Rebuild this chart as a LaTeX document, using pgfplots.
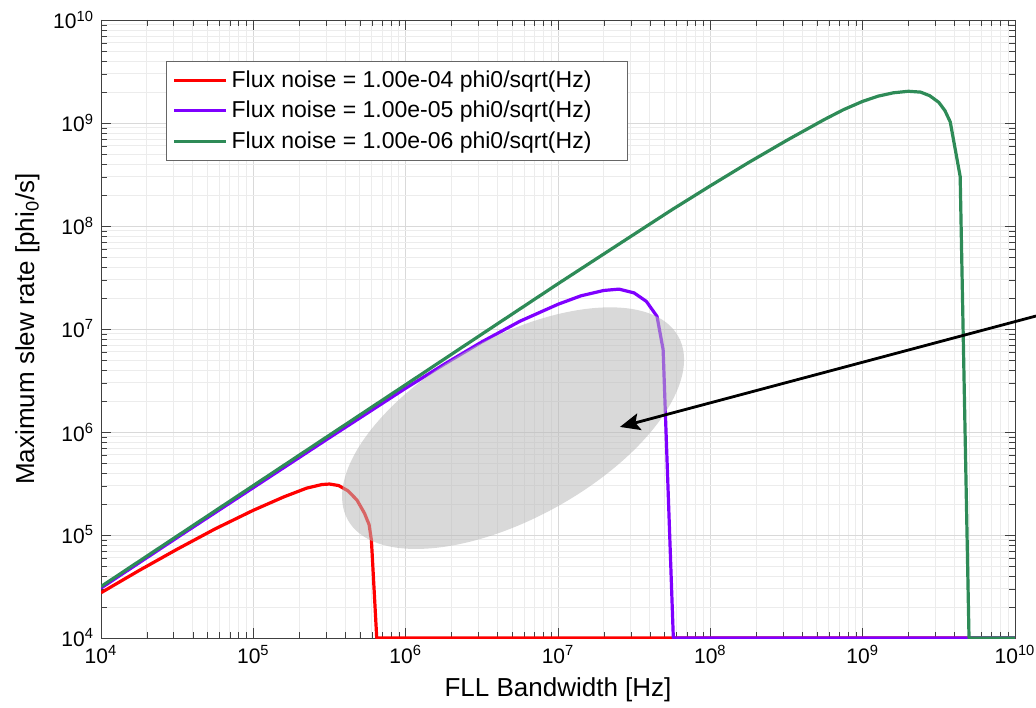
\documentclass[border=0pt]{standalone}
\usepackage{fontspec}
\setmainfont{Liberation Sans}
\usepackage{pgfplots}
\pgfplotsset{compat=1.18}
\usetikzlibrary{arrows.meta}
\definecolor{cred}{RGB}{255,0,0}
\definecolor{cviolet}{RGB}{127,0,255}
\definecolor{cgreen}{RGB}{46,139,87}
\definecolor{ellgray}{RGB}{185,185,185}

\begin{document}
\begin{tikzpicture}
\begin{axis}[
  xmode=log, ymode=log,
  scale only axis, width=457pt, height=309pt,
  xmin=1e4, xmax=1e10, ymin=1e4, ymax=1e10,
  xtick={1e4,1e5,1e6,1e7,1e8,1e9,1e10},
  ytick={1e4,1e5,1e6,1e7,1e8,1e9,1e10},
  xticklabels={10\textsuperscript{4},10\textsuperscript{5},10\textsuperscript{6},10\textsuperscript{7},10\textsuperscript{8},10\textsuperscript{9},10\textsuperscript{10}},
  yticklabels={10\textsuperscript{4},10\textsuperscript{5},10\textsuperscript{6},10\textsuperscript{7},10\textsuperscript{8},10\textsuperscript{9},10\textsuperscript{10}},
  grid=both,
  major grid style={gray!30, line width=0.4pt},
  minor grid style={gray!15, line width=0.4pt},
  axis line style={black!75}, tick style={black!75},
  major tick length=5pt, minor tick length=3pt,
  tick label style={font=\fontsize{10.5}{12}\selectfont},
  label style={font=\fontsize{13}{15}\selectfont},
  xlabel={FLL Bandwidth [Hz]},
  ylabel={Maximum slew rate [phi\textsubscript{0}/s]},
  legend style={at={(rel axis cs:0.0711,0.9337)}, anchor=north west,
    draw=black!60, fill=white, font=\fontsize{11.5}{14}\selectfont,
    inner xsep=3pt, inner ysep=2.5pt, row sep=1.5pt},
  legend cell align=left,
  legend image code/.code={\draw[#1] (0pt,0pt) -- (26pt,0pt);},
  every axis plot/.append style={line width=1.6pt, line join=round},
]
% red: 1e-4 phi0/sqrt(Hz)
\addplot[cred] coordinates {(1e4,2.75e4) (1.778e4,4.52e4) (3.162e4,7.28e4) (5.623e4,1.148e5) (1e5,1.738e5) (1.585e5,2.344e5) (2.239e5,2.851e5) (2.818e5,3.09e5) (3.162e5,3.126e5) (3.631e5,3.02e5) (4.169e5,2.692e5) (4.786e5,2.188e5) (5.37e5,1.622e5) (5.754e5,1.259e5) (5.957e5,8.91e4) (6.457e5,1e4) (1e10,1e4)};
\addlegendentry{\makebox[193pt][l]{Flux noise = 1.00e-04 phi0/sqrt(Hz)}}
% violet: 1e-5 phi0/sqrt(Hz)
\addplot[cviolet] coordinates {(1e4,3.055e4) (3.162e4,9.44e4) (1e5,2.884e5) (3.162e5,8.81e5) (5.623e5,1.531e6) (1e6,2.661e6) (1.778e6,4.519e6) (3.162e6,7.50e6) (5.623e6,1.189e7) (1e7,1.738e7) (1.413e7,2.099e7) (1.995e7,2.366e7) (2.512e7,2.438e7) (3.162e7,2.239e7) (3.802e7,1.854e7) (4.467e7,1.324e7) (4.898e7,6.31e6) (5.715e7,1e4) (1e10,1e4)};
\addlegendentry{Flux noise = 1.00e-05 phi0/sqrt(Hz)}
% green: 1e-6 phi0/sqrt(Hz)
\addplot[cgreen] coordinates {(1e4,3.16e4) (3.162e4,9.77e4) (1e5,3.02e5) (3.162e5,9.33e5) (1e6,2.88e6) (3.162e6,8.91e6) (1e7,2.75e7) (3.162e7,8.318e7) (5.623e7,1.445e8) (1e8,2.455e8) (1.778e8,4.121e8) (3.162e8,6.761e8) (5.623e8,1.084e9) (7.499e8,1.349e9) (1e9,1.622e9) (1.259e9,1.820e9) (1.585e9,1.963e9) (1.995e9,2.032e9) (2.399e9,1.995e9) (2.754e9,1.841e9) (3.162e9,1.585e9) (3.467e9,1.318e9) (3.758e9,1.023e9) (4.365e9,3.02e8) (4.989e9,1e4) (1e10,1e4)};
\addlegendentry{Flux noise = 1.00e-06 phi0/sqrt(Hz)}
\coordinate (SW) at (rel axis cs:0,0);
\coordinate (NE) at (rel axis cs:1,1);
\coordinate (E) at (axis cs:5.07e6,1.09e6);
\coordinate (AS) at (axis cs:1.374e10,1.337e7);
\coordinate (AE) at (axis cs:2.55e7,1.12e6);
\end{axis}
\fill[ellgray, opacity=0.55, rotate around={29:(E)}] (E) ellipse [x radius=94.5pt, y radius=45pt];
\draw[line width=1.4pt, -{Stealth[length=10pt,width=8.5pt,inset=2pt]}] (AS) -- (AE);
\pgfresetboundingbox
\path[use as bounding box] ([xshift=-50.5pt,yshift=-34.5pt]SW) rectangle ([xshift=10.5pt,yshift=10pt]NE);
\end{tikzpicture}
\end{document}
